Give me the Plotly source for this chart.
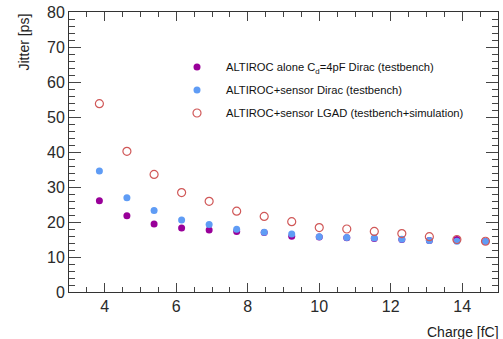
import plotly.graph_objects as go

charge = [3.85, 4.62, 5.38, 6.15, 6.92, 7.69, 8.46, 9.23, 10.0, 10.77, 11.54, 12.31, 13.08, 13.85, 14.65]
jitter_alone = [26.1, 21.8, 19.4, 18.3, 17.7, 17.3, 17.0, 15.9, 15.7, 15.5, 15.3, 15.0, 14.7, 15.0, 14.4]
jitter_dirac = [34.6, 26.9, 23.3, 20.6, 19.3, 17.9, 17.1, 16.6, 15.8, 15.6, 15.4, 15.1, 14.7, 14.5, 14.4]
jitter_lgad = [53.8, 40.2, 33.6, 28.4, 25.9, 23.1, 21.6, 20.1, 18.4, 18.0, 17.3, 16.7, 15.8, 15.0, 14.5]

names = [
    "ALTIROC alone C<sub>d</sub>=4pF Dirac (testbench)",
    "ALTIROC+sensor Dirac (testbench)",
    "ALTIROC+sensor LGAD (testbench+simulation)",
]

W, H = 503, 339
L, R, T, B = 69, 5, 12, 47
PW, PH = W - L - R, H - T - B


def px(xp):
    return (xp - L) / PW


def py(yp):
    return (H - B - yp) / PH


fig = go.Figure()
fig.add_trace(go.Scatter(x=charge, y=jitter_alone, mode="markers", name=names[0],
                         marker=dict(color="#990099", size=7, line=dict(width=0)),
                         legend="legend"))
fig.add_trace(go.Scatter(x=charge, y=jitter_dirac, mode="markers", name=names[1],
                         marker=dict(color="#5f9cf5", size=7, line=dict(width=0)),
                         legend="legend2"))
fig.add_trace(go.Scatter(x=charge, y=jitter_lgad, mode="markers", name=names[2],
                         marker=dict(symbol="circle-open", color="#d05858", size=8, line=dict(width=1.2)),
                         legend="legend3"))

tfont = dict(family="Liberation Sans, Arial", size=16, color="#2a2a2a")
fig.update_xaxes(range=[3, 15], dtick=2, ticks="inside", ticklen=9, tickcolor="#444444", tickwidth=1,
                 showline=True, mirror="ticks", linecolor="#333333", linewidth=1,
                 showgrid=True, gridcolor="rgba(0,0,0,0)", zeroline=False, tickfont=tfont,
                 minor=dict(dtick=0.5, ticks="inside", ticklen=5, tickcolor="#444444"))
fig.update_yaxes(range=[0, 80], dtick=10, ticks="inside", ticklen=12, tickcolor="#444444", tickwidth=1,
                 showline=True, mirror="ticks", linecolor="#333333", linewidth=1,
                 showgrid=True, gridcolor="rgba(0,0,0,0)", zeroline=False, tickfont=tfont,
                 minor=dict(dtick=2, ticks="inside", ticklen=6, tickcolor="#444444"))

leg_font = dict(family="Liberation Sans, Arial", size=11.2, color="#111111")
ys = [67, 90, 113]
for i, key in enumerate(["legend", "legend2", "legend3"]):
    fig.update_layout(**{key: dict(
        x=px(168), y=py(ys[i]), xref="paper", yref="paper",
        xanchor="left", yanchor="middle", bgcolor="rgba(0,0,0,0)",
        font=leg_font, itemwidth=48, borderwidth=0)})

fig.add_annotation(text="Jitter [ps]", xref="paper", yref="paper",
                   x=px(23), y=py(12), xanchor="center", yanchor="top",
                   textangle=-90, showarrow=False,
                   font=dict(family="Liberation Sans, Arial", size=14, color="#222222"))
fig.add_annotation(text="Charge [fC]", xref="paper", yref="paper",
                   x=px(501), y=py(332), xanchor="right", yanchor="middle",
                   showarrow=False,
                   font=dict(family="Liberation Sans, Arial", size=14, color="#222222"))

fig.update_layout(width=W, height=H, margin=dict(l=L, r=R, t=T, b=B),
                  paper_bgcolor="white", plot_bgcolor="white", showlegend=True)
fig.write_html("out.html")
